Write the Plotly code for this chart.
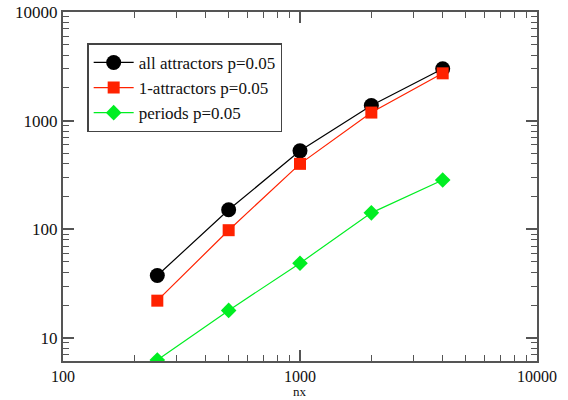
import plotly.graph_objects as go

nx = [250, 500, 1000, 2000, 4000]
all_attr = [37.5, 151, 527, 1380, 3000]
one_attr = [22, 98, 400, 1186, 2725]
periods = [6.25, 17.9, 48.7, 141.6, 284]

names = ["all attractors p=0.05", "1-attractors p=0.05", "periods p=0.05"]
colors = ["#000000", "#ff2200", "#00ee22"]
symbols = ["circle", "square", "diamond"]
sizes = [15, 12, 12]
series = [all_attr, one_attr, periods]

x_major = [100, 1000, 10000]
y_major = [10, 100, 1000, 10000]
x_minor = [m * 10 ** k for k in (2, 3) for m in range(2, 10)]
y_minor = [m * 10 ** k for k in (0, 1, 2, 3) for m in range(2, 10)]

serif = "Liberation Serif"

fig = go.Figure()
for s, n, c, sym, sz in zip(series, names, colors, symbols, sizes):
    fig.add_trace(go.Scatter(
        x=nx, y=s, name=n, mode="lines+markers",
        line=dict(color=c, width=1.2),
        marker=dict(symbol=sym, size=sz, color=c, line=dict(width=0)),
    ))

font = dict(family=serif, size=17, color="#111")
axis_common = dict(
    type="log", showgrid=False, zeroline=False, automargin=False,
    showline=True, linecolor="#555", linewidth=2, mirror="ticks",
    ticks="inside", ticklen=11, tickwidth=1.5, tickcolor="#555",
)
fig.update_xaxes(range=[2, 4], tickmode="array", tickvals=x_major, ticktext=[str(v) for v in x_major],
                 tickfont=dict(family=serif, size=16, color="#111"),
                 minor=dict(tickmode="array", tickvals=x_minor, ticks="inside", ticklen=6,
                            tickwidth=1.3, tickcolor="#555", showgrid=False),
                 **axis_common)
fig.update_yaxes(range=[0.787, 4], tickmode="array", tickvals=y_major, ticktext=[str(v) for v in y_major],
                 tickfont=font,
                 minor=dict(tickmode="array", tickvals=y_minor, ticks="inside", ticklen=6,
                            tickwidth=1.3, tickcolor="#555", showgrid=False),
                 **axis_common)
fig.add_annotation(text="nx", x=0.5, y=0, xref="paper", yref="paper", yshift=-30,
                   showarrow=False, yanchor="middle", font=dict(family=serif, size=13, color="#111"))
fig.update_layout(
    width=568, height=400,
    margin=dict(l=63, r=31, t=12, b=39),
    plot_bgcolor="white", paper_bgcolor="white",
    font=font,
    legend=dict(x=0.051, y=0.91, xanchor="left", yanchor="top",
                bordercolor="#444", borderwidth=1.5, bgcolor="white",
                font=dict(family=serif, size=17, color="#111"),
                itemwidth=40, tracegroupgap=0),
)
fig.write_html("out.html")
